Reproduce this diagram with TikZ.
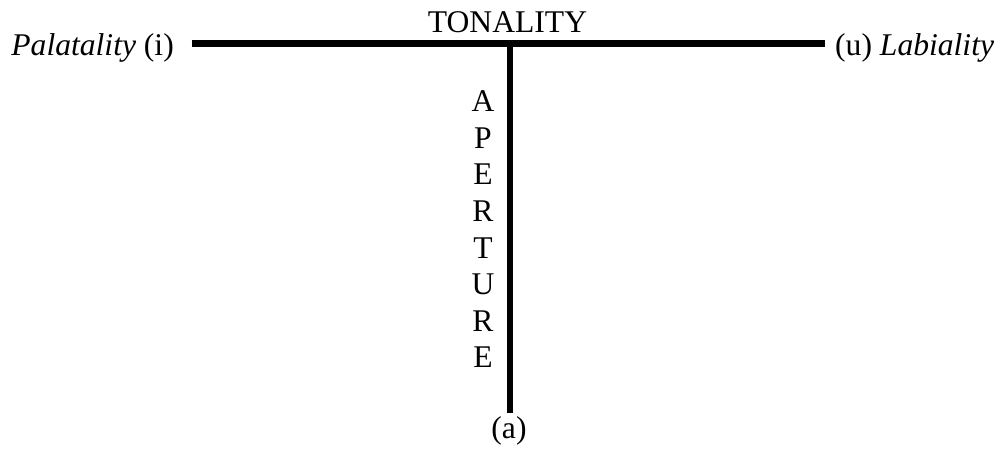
\documentclass[tikz,border=0pt]{standalone}
\usepackage{fontspec}
\setmainfont{Liberation Serif}
\begin{document}
\begin{tikzpicture}[x=1pt,y=-1pt,
  lbl/.style={inner sep=0pt,font=\fontsize{31.6}{38}\selectfont},
  axis/.style={line width=6.7pt,line cap=butt}]
\useasboundingbox (0,0) rectangle (1008,450);
\node[lbl,anchor=base east] (pal) at (174,55) {\textit{Palatality} (i)};
\node[lbl,anchor=base west] (lab) at (835,55) {(u) \textit{Labiality}};
\node[lbl,anchor=base] (ton) at (507.5,32) {TONALITY};
\node[lbl,anchor=base] (a) at (509,438) {(a)};
\foreach \ch [count=\i from 0] in {A,P,E,R,T,U,R,E}{
  \node[lbl,anchor=base] (ap\i) at (483,111.7+36.6*\i) {\ch};
}
\coordinate (hl) at (191.7,43.3);
\coordinate (hr) at (825,43.3);
\coordinate (vt) at (510,43.3);
\coordinate (vb) at (510,413);
\draw[axis] (hl) -- (hr);
\draw[axis] (vt) -- (vb);
\end{tikzpicture}
\end{document}
